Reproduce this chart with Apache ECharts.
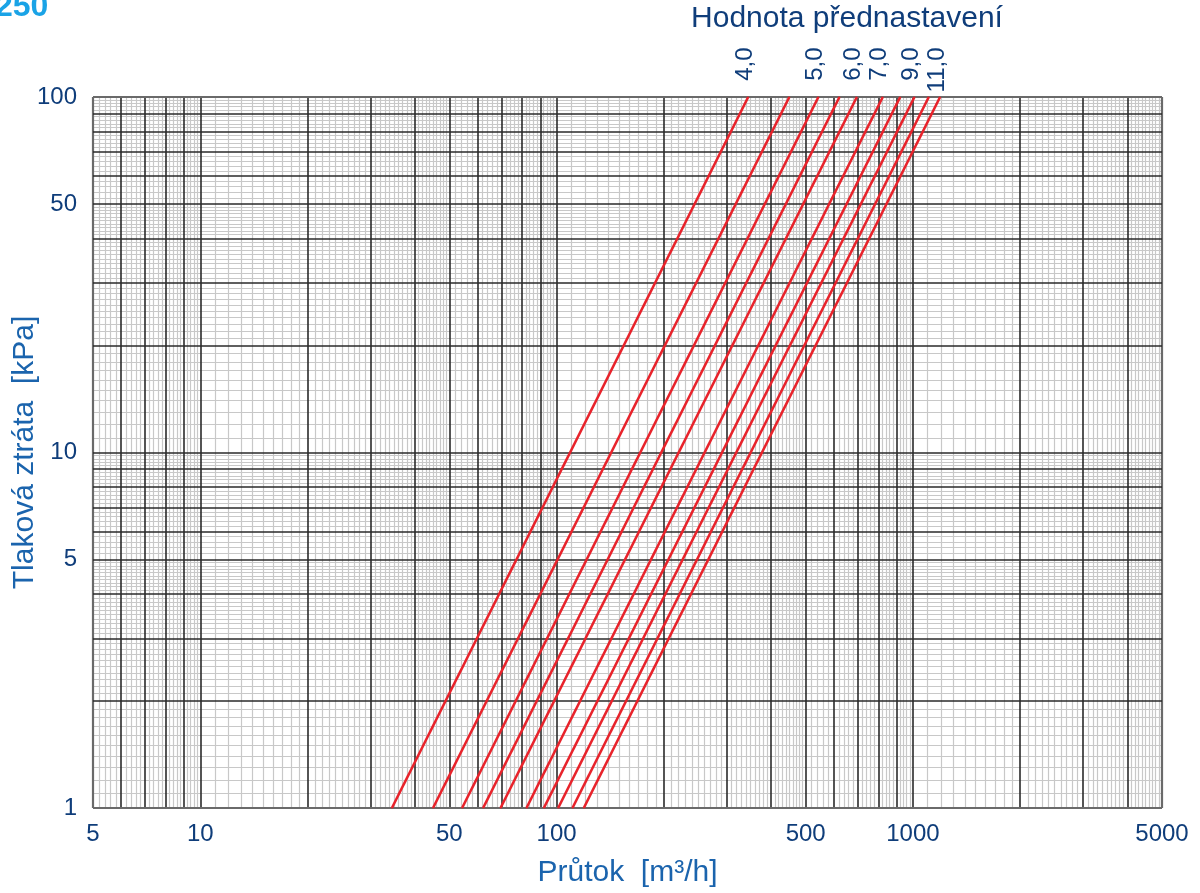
<!DOCTYPE html>
<html>
<head>
<meta charset="utf-8">
<title>Tlaková ztráta 250</title>
<script src="https://cdn.jsdelivr.net/npm/echarts@6/dist/echarts.min.js"></script>
<style>
  html, body { margin: 0; padding: 0; background: #fff; }
  #chart { width: 1200px; height: 893px; }
</style>
</head>
<body>
<div id="chart"></div>
<script>
// hodnoty: průtok při 1 kPa a při 100 kPa
var settingLabels = ['4,0', '', '5,0', '', '6,0', '7,0', '', '9,0', '', '11,0'];
var flowAt1 = [34.5, 45, 54.3, 62.2, 69.6, 82.3, 92.1, 101, 110.8, 119.2];
var flowAt100 = [345, 450, 543, 622, 696, 823, 921, 1010, 1108, 1192];
var dpLow = 1, dpHigh = 100;

var xTickLabels = [5, 10, 50, 100, 500, 1000, 5000];
var yTickLabels = [1, 5, 10, 50, 100];
var xRange = [5, 5000];
var yRange = [1, 100];

var tickColor = '#0f3d7a';
var nameColor = '#1b64ad';
var font = 'Liberation Sans, Arial, sans-serif';

// mřížka logaritmického papíru
function gridValues(lo, hi) {
  var major = [], minor = [];
  for (var d = 0.1; d <= hi; d *= 10) {
    for (var n = 1; n <= 9; n++) {
      var v = +(n * d).toPrecision(6);
      if (v >= lo - 1e-9 && v <= hi + 1e-9) major.push(v);
      var subs = n < 5 ? 10 : 5;
      for (var k = 1; k < subs; k++) {
        var m = +((n + k / subs) * d).toPrecision(6);
        if (m > lo && m < hi) minor.push(m);
      }
    }
  }
  return { major: major, minor: minor };
}

var gx = gridValues(xRange[0], xRange[1]);
var gy = gridValues(yRange[0], yRange[1]);

var lightStyle = { color: '#c8c8c8', width: 1.2, type: 'solid' };
var darkStyle = { color: '#2a2a2a', width: 1.6, type: 'solid' };
var frameStyle = { color: '#6a6a6a', width: 2.2, type: 'solid' };

function lineItems(vals, key, style, edges) {
  return vals.map(function (v) {
    var o = { lineStyle: style };
    if (edges && (v === edges[0] || v === edges[1])) o.lineStyle = frameStyle;
    o[key] = v;
    return o;
  });
}

var gridMarks = []
  .concat(lineItems(gx.minor, 'xAxis', lightStyle))
  .concat(lineItems(gy.minor, 'yAxis', lightStyle))
  .concat(lineItems(gx.major, 'xAxis', darkStyle, xRange))
  .concat(lineItems(gy.major, 'yAxis', darkStyle, yRange));

var curves = flowAt1.map(function (q, i) {
  return {
    type: 'line',
    z: 5,
    silent: true,
    symbol: 'circle',
    symbolSize: 1,
    showSymbol: true,
    itemStyle: { color: '#e8232b' },
    lineStyle: { color: '#e8232b', width: 2.6 },
    data: [
      { value: [q, dpLow], label: { show: false } },
      {
        value: [flowAt100[i], dpHigh],
        label: {
          show: settingLabels[i] !== '',
          formatter: settingLabels[i],
          position: 'top',
          distance: 49,
          rotate: 90,
          align: 'right',
          verticalAlign: 'middle',
          offset: [0, -3],
          color: tickColor,
          fontSize: 24,
          fontFamily: font
        }
      }
    ]
  };
});

var myChart = echarts.init(document.getElementById('chart'));
myChart.setOption({
  animation: false,
  grid: { left: 93, right: 38, top: 97, bottom: 85, containLabel: false, outerBoundsMode: 'none' },
  graphic: [
    {
      type: 'text', left: -5, top: -9,
      style: { text: '250', fill: '#1aa3e6', font: 'bold 32px ' + font }
    },
    {
      type: 'text', x: 847, y: 4,
      style: { text: 'Hodnota přednastavení', fill: tickColor, font: '30px ' + font, textAlign: 'center' }
    }
  ],
  xAxis: {
    type: 'log',
    logBase: 10,
    min: xRange[0],
    max: xRange[1],
    name: 'Průtok  [m³/h]',
    nameLocation: 'middle',
    nameGap: 50,
    nameMoveOverlap: false,
    nameTextStyle: { color: nameColor, fontSize: 30, fontFamily: font },
    axisLine: { show: false },
    axisTick: { show: false },
    splitLine: { show: false },
    minorSplitLine: { show: false },
    axisLabel: {
      customValues: xTickLabels,
      margin: 14,
      color: tickColor,
      fontSize: 24,
      fontFamily: font,
      formatter: function (v) { return String(Math.round(v)); }
    }
  },
  yAxis: {
    type: 'log',
    logBase: 10,
    min: yRange[0],
    max: yRange[1],
    name: 'Tlaková ztráta  [kPa]',
    nameLocation: 'middle',
    nameGap: 53,
    nameMoveOverlap: false,
    nameTextStyle: { color: nameColor, fontSize: 30, fontFamily: font },
    axisLine: { show: false },
    axisTick: { show: false },
    splitLine: { show: false },
    minorSplitLine: { show: false },
    axisLabel: {
      customValues: yTickLabels,
      margin: 16,
      color: tickColor,
      fontSize: 24,
      fontFamily: font,
      formatter: function (v) { return String(Math.round(v)); }
    }
  },
  series: [
    {
      type: 'line',
      silent: true,
      symbol: 'none',
      data: [[xRange[0], yRange[0]]],
      lineStyle: { opacity: 0 },
      markLine: {
        silent: true,
        symbol: ['none', 'none'],
        label: { show: false },
        animation: false,
        data: gridMarks
      }
    }
  ].concat(curves)
});
</script>
</body>
</html>
